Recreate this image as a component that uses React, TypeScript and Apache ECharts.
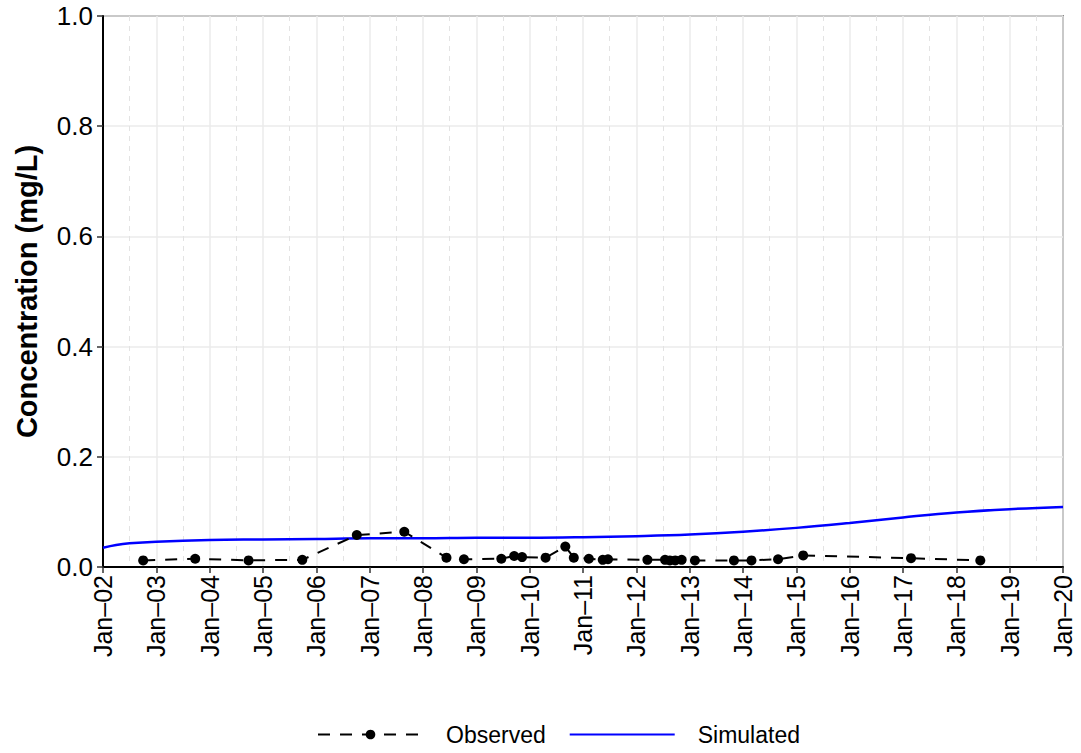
import React, { useEffect, useRef } from "react";
import * as echarts from "echarts";

const xTickYears = [2002, 2003, 2004, 2005, 2006, 2007, 2008, 2009, 2010, 2011, 2012, 2013, 2014, 2015, 2016, 2017, 2018, 2019, 2020];
const yTicks = [0, 0.2, 0.4, 0.6, 0.8, 1.0];

const observedDates = [
  "2002-10-03", "2003-09-24", "2004-09-24", "2005-09-27", "2006-10-05", "2007-08-26",
  "2008-06-10", "2008-10-08", "2009-06-21", "2009-09-17", "2009-11-10", "2010-04-20",
  "2010-09-02", "2010-10-30", "2011-02-10", "2011-05-16", "2011-06-21", "2012-03-17",
  "2012-07-16", "2012-08-18", "2012-09-24", "2012-11-07", "2013-02-06", "2013-10-31",
  "2014-02-28", "2014-08-29", "2015-02-17", "2017-02-25", "2018-06-14",
];
const observedValues = [
  0.012, 0.015, 0.012, 0.013, 0.058, 0.064,
  0.017, 0.014, 0.015, 0.020, 0.018, 0.017,
  0.037, 0.017, 0.015, 0.013, 0.014, 0.013,
  0.013, 0.012, 0.012, 0.013, 0.012, 0.012,
  0.012, 0.014, 0.021, 0.016, 0.012,
];

const simulatedDates = [
  "2002-01-01", "2002-04-01", "2002-07-01", "2003-01-01", "2004-01-01", "2005-01-01",
  "2006-01-01", "2007-01-01", "2008-01-01", "2009-01-01", "2010-01-01", "2011-01-01",
  "2012-01-01", "2013-01-01", "2014-01-01", "2015-01-01", "2016-01-01", "2017-01-01",
  "2018-01-01", "2019-01-01", "2020-01-01",
];
const simulatedValues = [
  0.035, 0.040, 0.043, 0.046, 0.049, 0.050,
  0.051, 0.052, 0.052, 0.053, 0.053, 0.054,
  0.056, 0.059, 0.064, 0.071, 0.080, 0.090,
  0.099, 0.105, 0.109,
];

function decimalYear(d: string): number {
  const [y, m, day] = d.split("-").map(Number);
  const start = Date.UTC(y, 0, 1);
  const end = Date.UTC(y + 1, 0, 1);
  return y + (Date.UTC(y, m - 1, day) - start) / (end - start);
}

const FONT = "'Liberation Sans', Arial, Helvetica, sans-serif";

export default function App() {
  const ref = useRef<HTMLDivElement>(null);
  useEffect(() => {
    if (!ref.current) return;
    const chart = echarts.init(ref.current, undefined, { renderer: "svg" });
    chart.setOption({
      animation: false,
      backgroundColor: "#ffffff",
      textStyle: { fontFamily: FONT },
      grid: {
        left: 103,
        right: 18,
        top: 16,
        bottom: 186,
        show: true,
        borderColor: "#333333",
        borderWidth: 1.5,
        containLabel: false,
      },
      legend: {
        bottom: 2,
        left: 312,
        itemWidth: 105,
        itemHeight: 12,
        itemGap: 23,
        textStyle: { fontFamily: FONT, fontSize: 23, color: "#000", padding: [0, 0, 0, 18] },
        data: [
          { name: "Observed" },
          { name: "Simulated", itemStyle: { opacity: 0 } },
        ],
      },
      xAxis: {
        type: "value",
        min: xTickYears[0],
        max: xTickYears[xTickYears.length - 1],
        interval: 1,
        axisLine: { show: true, onZero: false, lineStyle: { color: "#000", width: 2 } },
        axisTick: { show: true, length: 6, lineStyle: { color: "#333", width: 1.5 } },
        axisLabel: {
          rotate: 90,
          fontSize: 25,
          color: "#000",
          margin: 8,
          fontFamily: FONT,
          formatter: (v: number) => "Jan\u2013" + String(Math.round(v)).slice(2),
        },
        splitLine: { show: true, lineStyle: { color: "#ebebeb", width: 1.5 } },
        minorTick: { show: false, splitNumber: 2 },
        minorSplitLine: { show: true, lineStyle: { color: "#e3e3e3", width: 1, type: [5, 5] } },
      },
      yAxis: {
        type: "value",
        min: yTicks[0],
        max: yTicks[yTicks.length - 1],
        interval: 0.2,
        name: "Concentration (mg/L)",
        nameLocation: "middle",
        nameGap: 62,
        nameTextStyle: { fontFamily: FONT, fontSize: 29, fontWeight: "bold", color: "#000" },
        axisLine: { show: true, lineStyle: { color: "#000", width: 2 } },
        axisTick: { show: true, length: 6, lineStyle: { color: "#333", width: 1.5 } },
        axisLabel: {
          fontSize: 26,
          color: "#000",
          margin: 10,
          fontFamily: FONT,
          formatter: (v: number) => v.toFixed(1),
        },
        splitLine: { show: true, lineStyle: { color: "#ebebeb", width: 1.5 } },
      },
      series: [
        {
          name: "Simulated",
          type: "line",
          data: simulatedDates.map((d, i) => [decimalYear(d), simulatedValues[i]]),
          smooth: 0.4,
          showSymbol: false,
          symbol: "none",
          lineStyle: { color: "#0000ff", width: 2.5 },
          itemStyle: { color: "#0000ff" },
          z: 2,
        },
        {
          name: "Observed",
          type: "line",
          data: observedDates.map((d, i) => [decimalYear(d), observedValues[i]]),
          symbol: "circle",
          symbolSize: 10,
          showSymbol: true,
          lineStyle: { color: "#000", width: 2, type: [12, 10] },
          itemStyle: { color: "#000" },
          z: 3,
        },
      ],
    });
    return () => chart.dispose();
  }, []);
  return (
    <div
      ref={ref}
      style={{ position: "fixed", left: 0, top: 0, width: 1081, height: 753 }}
    />
  );
}
